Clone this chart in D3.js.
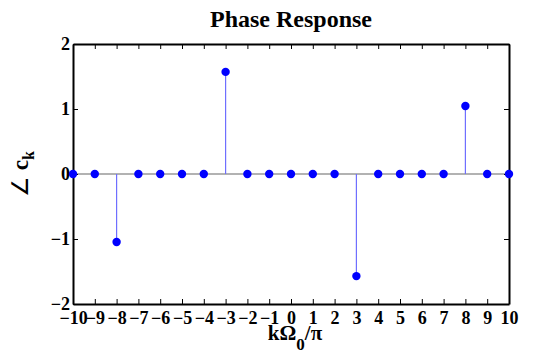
<!DOCTYPE html>
<html><head><meta charset="utf-8">
<script src="https://cdn.jsdelivr.net/npm/d3@7"></script>
<style>
body{margin:0;background:#fff;}
text{font-family:"Liberation Serif","Times New Roman",serif;font-weight:bold;fill:#000;}
</style></head>
<body><svg id="c" width="535" height="354"></svg>
<script>
const kValues = [-10,-9,-8,-7,-6,-5,-4,-3,-2,-1,0,1,2,3,4,5,6,7,8,9,10];
const phaseValues = [0,0,-1.0472,0,0,0,0,1.5708,0,0,0,0,0,-1.5708,0,0,0,0,1.0472,0,0];
const xTicks = d3.range(-10,11);
const yTicks = [-2,-1,0,1,2];
const titleText = "Phase Response";

const svg = d3.select("#c");
const L=73,R=509,T=44,B=304;
const x = d3.scaleLinear().domain([-10,10]).range([L,R]);
const y = d3.scaleLinear().domain([-2,2]).range([B,T]);

// baseline
svg.append("line").attr("x1",x(-10)).attr("x2",x(10)).attr("y1",y(0)).attr("y2",y(0))
  .attr("stroke","#666").attr("stroke-width",1.2);

// stems
const data = kValues.map((k,i)=>({k,v:phaseValues[i]}));
svg.selectAll(".stem").data(data.filter(d=>d.v!==0)).enter().append("line")
  .attr("x1",d=>x(d.k)).attr("x2",d=>x(d.k)).attr("y1",y(0)).attr("y2",d=>y(d.v))
  .attr("stroke","#6f6fff").attr("stroke-width",1.2);

// axes box
const fmt = d=> d<0 ? "\u2212"+Math.abs(d) : String(d);
const gB = svg.append("g").attr("transform",`translate(0,${B})`)
  .call(d3.axisBottom(x).tickValues(xTicks).tickSizeInner(-5).tickSizeOuter(0).tickPadding(4).tickFormat(fmt));
const gT = svg.append("g").attr("transform",`translate(0,${T})`)
  .call(d3.axisTop(x).tickValues(xTicks).tickSizeInner(-5).tickSizeOuter(0).tickFormat(""));
const gL = svg.append("g").attr("transform",`translate(${L},0)`)
  .call(d3.axisLeft(y).tickValues(yTicks).tickSizeInner(-5).tickSizeOuter(0).tickPadding(3).tickFormat(fmt));
const gR = svg.append("g").attr("transform",`translate(${R},0)`)
  .call(d3.axisRight(y).tickValues(yTicks).tickSizeInner(-5).tickSizeOuter(0).tickFormat(""));
[gB,gT,gL,gR].forEach(g=>{
  g.select(".domain").attr("stroke","#000").attr("stroke-width",2);
  g.selectAll(".tick line").attr("stroke","#000").attr("stroke-width",1);
  g.selectAll("text").style("font-family","Liberation Serif, serif").style("font-weight","bold")
   .style("font-size","18px").attr("fill","#000");
});
gB.selectAll("text").attr("y",0).attr("dy","20px");
gL.selectAll("text").attr("dy","0.32em");

// markers
svg.selectAll(".dot").data(data.filter(d=>!(d.v===0 && [-8,-3,3,8].includes(d.k)))).enter().append("circle")
  .attr("cx",d=>x(d.k)).attr("cy",d=>y(d.v)).attr("r",4.2).attr("fill","#0000ff");

// title
svg.append("text").attr("x",(L+R)/2).attr("y",27).attr("text-anchor","middle")
  .style("font-size","24px").text(titleText);

// x label
const xl = svg.append("text").attr("x",(L+R)/2+4).attr("y",340).attr("text-anchor","middle").style("font-size","21px");
xl.append("tspan").text("k\u03A9");
xl.append("tspan").attr("dy",10).style("font-size","17px").text("0");
xl.append("tspan").attr("dy",-10).text("/\u03C0");

// y label
const yl = svg.append("text").attr("transform",`translate(28,${y(0)}) rotate(-90)`).attr("text-anchor","middle").style("font-size","23px");
yl.append("tspan").style("font-weight","normal").text("\u2220 ");
yl.append("tspan").text("c");
yl.append("tspan").attr("dy",6).style("font-size","16px").text("k");
</script>
</body></html>
